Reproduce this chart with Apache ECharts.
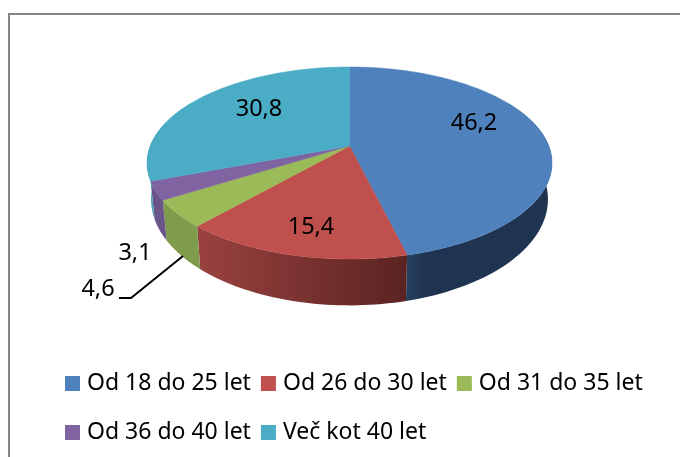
<!DOCTYPE html>
<html>
<head>
<meta charset="utf-8">
<style>
  html, body { margin: 0; padding: 0; background: #fff; }
  #chart { width: 680px; height: 457px; }
</style>
<script src="https://cdn.jsdelivr.net/npm/echarts@6/dist/echarts.min.js"></script>
</head>
<body>
<div id="chart"></div>
<script>
var categories = ['Od 18 do 25 let', 'Od 26 do 30 let', 'Od 31 do 35 let', 'Od 36 do 40 let', 'Več kot 40 let'];
var values = [46.2, 15.4, 4.6, 3.1, 30.8];
var valueLabels = ['46,2', '15,4', '4,6', '3,1', '30,8'];

var topColors = ['#4f81bd', '#c0504d', '#9bbb59', '#8064a2', '#4bacc6'];
var wallColors = [['#26405f', '#1f3450'], ['#9a4240', '#5a2321'], ['#7f9c4c', '#7f9c4c'], ['#6b5488', '#6b5488'], ['#4aa0b8', '#4aa0b8']];
var labelSpots = [[474, 123], [311, 227], [98, 289], [135, 253], [259, 109]];

// tilted disc: the circle is pushed through a projective map so the apex sits above the ellipse centre
var CX = 349.5, CY = 163, RX = 202.5, RY = 96, TILT = -17 / 96;
var BASE_SCALE_X = 0.98, BASE_Y = 199.3, BASE_SCALE_Y = 1.105;

var total = values.reduce(function (a, b) { return a + b; }, 0);

function rimPoint(deg, r) {
  var t = deg * Math.PI / 180;
  var u = r * Math.sin(t), v = -r * Math.cos(t);
  var w = 1 + TILT * v;
  return [RX * Math.sqrt(1 - TILT * TILT) * u / w, RY * (v + TILT) / w];
}

function sliceAngles(idx) {
  var before = 0;
  for (var i = 0; i < idx; i++) before += values[i];
  return [before / total * 360, (before + values[idx]) / total * 360];
}

function arcPoints(from, to) {
  var pts = [], steps = Math.max(2, Math.ceil((to - from) / 1.5));
  for (var i = 0; i <= steps; i++) pts.push(rimPoint(from + (to - from) * i / steps, 1));
  return pts;
}

function renderWall(params) {
  var a = sliceAngles(params.seriesIndex);
  var from = Math.max(a[0], 60), to = Math.min(a[1], 300);
  var rim = arcPoints(from, to);
  var pts = rim.map(function (p) { return [CX + p[0], CY + p[1]]; });
  var low = rim.map(function (p) { return [CX + p[0] * BASE_SCALE_X, BASE_Y + p[1] * BASE_SCALE_Y]; }).reverse();
  var cols = wallColors[params.seriesIndex];
  // blue wall only lightens right next to the red seam
  var stops = params.seriesIndex === 0
    ? [{ offset: 0, color: cols[0] }, { offset: 0.15, color: cols[1] }, { offset: 1, color: cols[1] }]
    : [{ offset: 0, color: cols[0] }, { offset: 1, color: cols[1] }];
  return {
    type: 'polygon',
    shape: { points: pts.concat(low) },
    style: {
      fill: new echarts.graphic.LinearGradient(0, 0, 1, 0, stops),
      stroke: null
    }
  };
}

function renderTop(params) {
  var idx = params.seriesIndex;
  var a = sliceAngles(idx);
  var pts = [rimPoint(0, 0)].concat(arcPoints(a[0], a[1])).map(function (p) {
    return [CX + p[0], CY + p[1]];
  });
  return {
    type: 'polygon',
    z2: 10,
    shape: { points: pts },
    style: { fill: topColors[idx], stroke: topColors[idx], lineWidth: 0.5 }
  };
}

function renderSlice(params, api) {
  var idx = params.seriesIndex;
  var children = [renderWall(params), renderTop(params)];
  children.push({
    type: 'text',
    z2: 20,
    style: {
      x: labelSpots[idx][0],
      y: labelSpots[idx][1],
      text: valueLabels[idx],
      fill: '#000',
      font: '23.5px "Noto Sans", sans-serif',
      align: 'center',
      verticalAlign: 'middle'
    }
  });
  // leader line for the small green slice
  if (idx === 2) {
    children.push({
      type: 'polyline',
      z2: 20,
      shape: { points: [[119, 298], [131, 298], [183, 256]] },
      style: { stroke: '#000', lineWidth: 2, fill: null }
    });
  }
  return { type: 'group', children: children };
}

var legendBase = {
  left: 65,
  padding: 0,
  icon: 'rect',
  itemWidth: 15,
  itemHeight: 15,
  itemGap: 10,
  orient: 'horizontal',
  selectedMode: false,
  textStyle: {
    color: '#000',
    fontFamily: '"Noto Sans", sans-serif',
    fontSize: 23,
    padding: [5, 0, 0, 2]
  }
};

var chart = echarts.init(document.getElementById('chart'), null, { renderer: 'canvas' });
chart.setOption({
  animation: false,
  backgroundColor: '#fff',
  legend: [
    Object.assign({}, legendBase, { top: 372, data: categories.slice(0, 3) }),
    Object.assign({}, legendBase, { top: 421, data: categories.slice(3) })
  ],
  graphic: [{
    type: 'rect',
    silent: true,
    shape: { x: 9, y: 14, width: 700, height: 480 },
    style: { fill: null, stroke: '#868686', lineWidth: 2 }
  }],
  series: categories.map(function (name, i) {
    return {
      type: 'custom',
      name: name,
      coordinateSystem: 'none',
      itemStyle: { color: topColors[i] },
      renderItem: renderSlice,
      silent: true,
      data: [values[i]]
    };
  })
});
</script>
</body>
</html>
